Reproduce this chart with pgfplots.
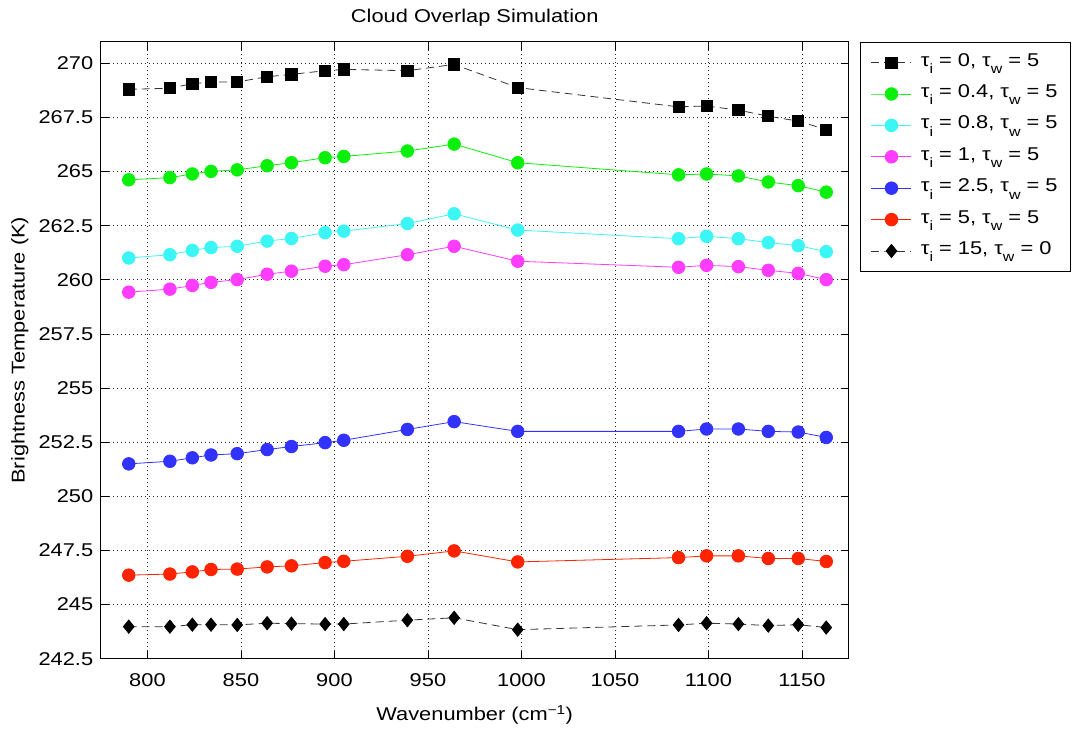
\documentclass[border=0pt]{standalone}
\usepackage{fontspec}
\setmainfont{Liberation Sans}[FakeStretch=1.18]
\usepackage{pgfplots}
\pgfplotsset{compat=1.18}
\definecolor{cgreen}{RGB}{10,240,10}
\definecolor{ccyan}{RGB}{60,245,245}
\definecolor{cmag}{RGB}{255,60,255}
\definecolor{cblue}{RGB}{50,50,255}
\definecolor{cred}{RGB}{255,35,0}
\newcommand\sub[1]{\raisebox{-0.4em}{\fontsize{13.5bp}{13.5bp}\selectfont #1}}
\begin{document}
\begin{tikzpicture}[font=\fontsize{18.5bp}{22bp}\selectfont]
\begin{axis}[
  scale only axis, width=748bp, height=617bp,
  xmin=775, xmax=1175, ymin=242.5, ymax=271,
  xtick distance=50, ytick distance=2.5,
  /pgf/number format/assume math mode=true,
  /pgf/number format/1000 sep={},
  tick align=inside, major tick length=8bp,
  tick style={black, line width=0.8bp},
  axis line style={black, line width=0.9bp},
  grid=major,
  major grid style={black!85, line width=0.7bp, dash pattern=on 1bp off 3bp},
  xticklabel style={anchor=base, yshift=-28bp},
  yticklabel style={anchor=east, xshift=-4bp},
  title={Cloud Overlap Simulation},
  title style={at={(axis description cs:0.5,1.021)}, anchor=base},
  xlabel={Wavenumber (cm\textsuperscript{−1})},
  xlabel style={at={(axis description cs:0.5,-0.1)}, anchor=base},
  ylabel={Brightness Temperature (K)},
  ylabel style={at={(axis description cs:-0.108,0.5)}, anchor=center, rotate=0},
  legend style={at={(axis description cs:1.0147,1)}, anchor=north west,
    draw=black, line width=0.8bp, fill=white, inner xsep=11bp, inner ysep=6bp,
    row sep=2.4bp, column sep=7bp,
    nodes={text height=16bp, text depth=9bp, inner sep=2bp}},
  legend cell align=left,
  legend image code/.code={\draw[mark repeat=2,mark phase=2,#1] plot coordinates {(0bp,0bp) (20bp,0bp) (40bp,0bp)};},
]
\addplot[black!80, line width=0.8bp, dash pattern=on 8bp off 5bp, mark=square*, mark size=5.6bp, mark options={solid, fill=black, draw=black}] coordinates {
(790,268.80) (812,268.85) (824,269.06) (834,269.14) (848,269.14) (864,269.38) (877,269.49) (895,269.66) (905,269.72) (939,269.66) (964,269.95) (998,268.88) (1084,267.99) (1099,268.03) (1116,267.84) (1132,267.56) (1148,267.33) (1163,266.94)};
\addlegendentry{τ\sub{i} = 0, τ\sub{w} = 5}
\addplot[cgreen, line width=0.8bp, mark=*, mark size=6.3bp, mark options={fill=cgreen, draw=cgreen}] coordinates {
(790,264.62) (812,264.72) (824,264.89) (834,265.01) (848,265.08) (864,265.27) (877,265.41) (895,265.64) (905,265.70) (939,265.95) (964,266.27) (998,265.41) (1084,264.85) (1099,264.89) (1116,264.80) (1132,264.52) (1148,264.35) (1163,264.05)};
\addlegendentry{τ\sub{i} = 0.4, τ\sub{w} = 5}
\addplot[ccyan, line width=0.8bp, mark=*, mark size=6.3bp, mark options={fill=ccyan, draw=ccyan}] coordinates {
(790,261.01) (812,261.16) (824,261.36) (834,261.49) (848,261.55) (864,261.79) (877,261.91) (895,262.18) (905,262.25) (939,262.60) (964,263.05) (998,262.30) (1084,261.90) (1099,262.01) (1116,261.90) (1132,261.72) (1148,261.58) (1163,261.30)};
\addlegendentry{τ\sub{i} = 0.8, τ\sub{w} = 5}
\addplot[cmag, line width=0.8bp, mark=*, mark size=6.3bp, mark options={fill=cmag, draw=cmag}] coordinates {
(790,259.43) (812,259.57) (824,259.74) (834,259.88) (848,260.01) (864,260.26) (877,260.40) (895,260.63) (905,260.70) (939,261.16) (964,261.55) (998,260.86) (1084,260.58) (1099,260.67) (1116,260.61) (1132,260.44) (1148,260.30) (1163,260.01)};
\addlegendentry{τ\sub{i} = 1, τ\sub{w} = 5}
\addplot[cblue, line width=0.8bp, mark=*, mark size=6.3bp, mark options={fill=cblue, draw=cblue}] coordinates {
(790,251.50) (812,251.62) (824,251.78) (834,251.91) (848,251.97) (864,252.16) (877,252.30) (895,252.48) (905,252.59) (939,253.09) (964,253.45) (998,253.00) (1084,253.00) (1099,253.11) (1116,253.11) (1132,253.00) (1148,252.97) (1163,252.72)};
\addlegendentry{τ\sub{i} = 2.5, τ\sub{w} = 5}
\addplot[cred, line width=0.8bp, mark=*, mark size=6.3bp, mark options={fill=cred, draw=cred}] coordinates {
(790,246.36) (812,246.41) (824,246.51) (834,246.62) (848,246.64) (864,246.74) (877,246.79) (895,246.94) (905,247.00) (939,247.23) (964,247.48) (998,246.97) (1084,247.17) (1099,247.25) (1116,247.25) (1132,247.13) (1148,247.13) (1163,246.99)};
\addlegendentry{τ\sub{i} = 5, τ\sub{w} = 5}
\addplot[black!80, line width=0.8bp, dash pattern=on 8bp off 5bp, mark=diamond*, mark size=6.6bp, mark options={solid, fill=black, draw=black, xscale=1.08}] coordinates {
(790,243.98) (812,243.98) (824,244.07) (834,244.07) (848,244.06) (864,244.14) (877,244.12) (895,244.10) (905,244.10) (939,244.28) (964,244.39) (998,243.84) (1084,244.06) (1099,244.14) (1116,244.10) (1132,244.03) (1148,244.07) (1163,243.94)};
\addlegendentry{τ\sub{i} = 15, τ\sub{w} = 0}
\coordinate (sw) at (rel axis cs:0,0);
\end{axis}
\pgfresetboundingbox
\path[use as bounding box] (sw) ++(-100.7bp,-70.3bp) rectangle ++(1074bp,729bp);
\end{tikzpicture}
\end{document}
